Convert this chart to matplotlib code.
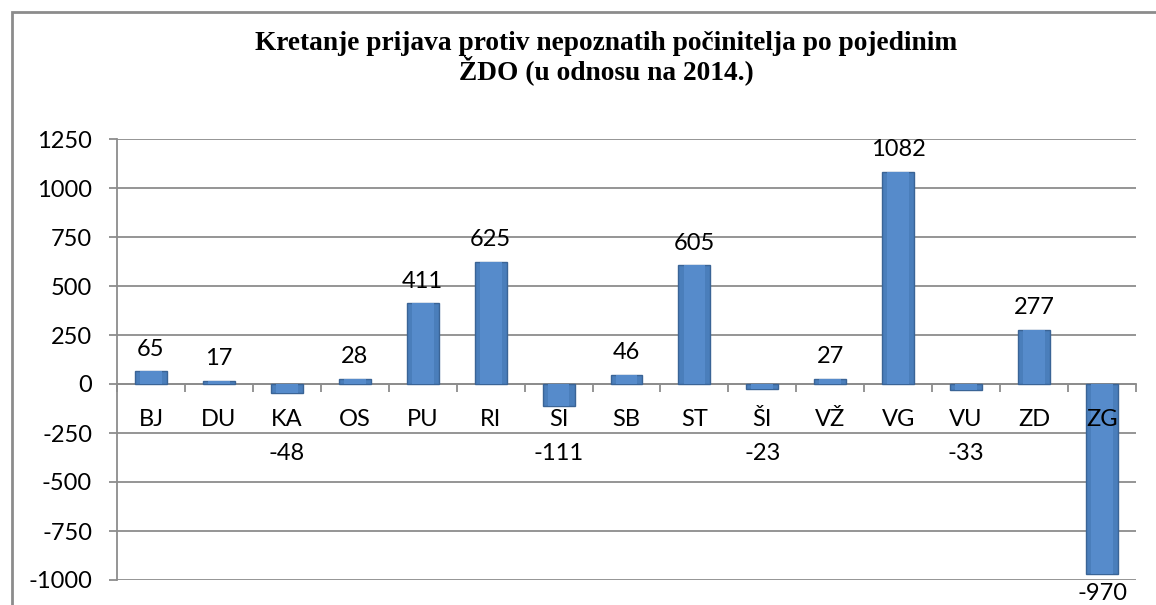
import numpy as np
import matplotlib
matplotlib.use('Agg')
import matplotlib.pyplot as plt
from matplotlib.patches import Rectangle

# data
categories = ['BJ', 'DU', 'KA', 'OS', 'PU', 'RI', 'SI', 'SB', 'ST', 'ŠI', 'VŽ', 'VG', 'VU', 'ZD', 'ZG']
values = [65, 17, -48, 28, 411, 625, -111, 46, 605, -23, 27, 1082, -33, 277, -970]
yticks = [-1000, -750, -500, -250, 0, 250, 500, 750, 1000, 1250]
title = 'Kretanje prijava protiv nepoznatih počinitelja po pojedinim\nŽDO (u odnosu na 2014.)'

W, H = 1156, 605
DPI = 100
FONT = 'Lato'
FS = 17
GRID = '#8c8c8c'

fig = plt.figure(figsize=(W / DPI, H / DPI), dpi=DPI)
fig.patch.set_facecolor('white')

# outer chart frame (cut off at right and bottom in the reference)
fig.patches.append(Rectangle((12 / W, -0.05), 1.2, 1 - 12 / H + 0.05, transform=fig.transFigure,
                             fill=False, edgecolor=GRID, linewidth=2))

ax = fig.add_axes([117 / W, 1 - 580 / H, (1136 - 117) / W, (580 - 139) / H])
x = np.arange(len(categories))
ax.bar(x, values, width=0.47, color='#4a7ebb', edgecolor='#3a6496', linewidth=1, zorder=3)
# bevel highlight inside each bar
ax.bar(x, values, width=0.32, color='#568bcb', edgecolor='none', zorder=3.5)

ax.set_xlim(-0.5, len(categories) - 0.5)
ax.set_ylim(-1000, 1250)
ax.set_yticks(yticks)
ax.set_yticklabels([str(t) for t in yticks], fontname=FONT, fontsize=FS)
ax.yaxis.grid(True, color=GRID, linewidth=1.3, zorder=0)
ax.set_axisbelow(True)

ax.set_xticks(np.arange(-0.5, len(categories), 1.0))
ax.set_xticklabels([])
ax.spines['bottom'].set_position(('data', 0))
for s in ['top', 'right']:
    ax.spines[s].set_visible(False)
ax.spines['bottom'].set_color(GRID)
ax.spines['left'].set_color(GRID)
ax.spines['bottom'].set_linewidth(1.3)
ax.spines['left'].set_linewidth(1.3)
ax.tick_params(axis='y', length=6, width=1.3, color=GRID, pad=12)
ax.tick_params(axis='x', length=6, width=1.3, color=GRID, direction='out')

# category labels under the zero line
for i, c in enumerate(categories):
    ax.annotate(c, (i, 0), xytext=(0, -25.5), textcoords='offset points',
                ha='center', va='center', fontname=FONT, fontsize=FS, zorder=5)

# value labels
for i, v in enumerate(values):
    if v >= 0:
        ax.annotate(str(v), (i, v), xytext=(0, 16), textcoords='offset points',
                    ha='center', va='center', fontname=FONT, fontsize=FS)
    else:
        ax.annotate(str(v), (i, min(v, -256)), xytext=(0, -14), textcoords='offset points',
                    ha='center', va='center', fontname=FONT, fontsize=FS)

fig.text(606 / W, 1 - 58 / H, title, ha='center', va='center', fontname='Liberation Serif',
         fontweight='bold', fontsize=19.7, linespacing=0.95)

fig.savefig('out.png', dpi=DPI)
plt.close()
